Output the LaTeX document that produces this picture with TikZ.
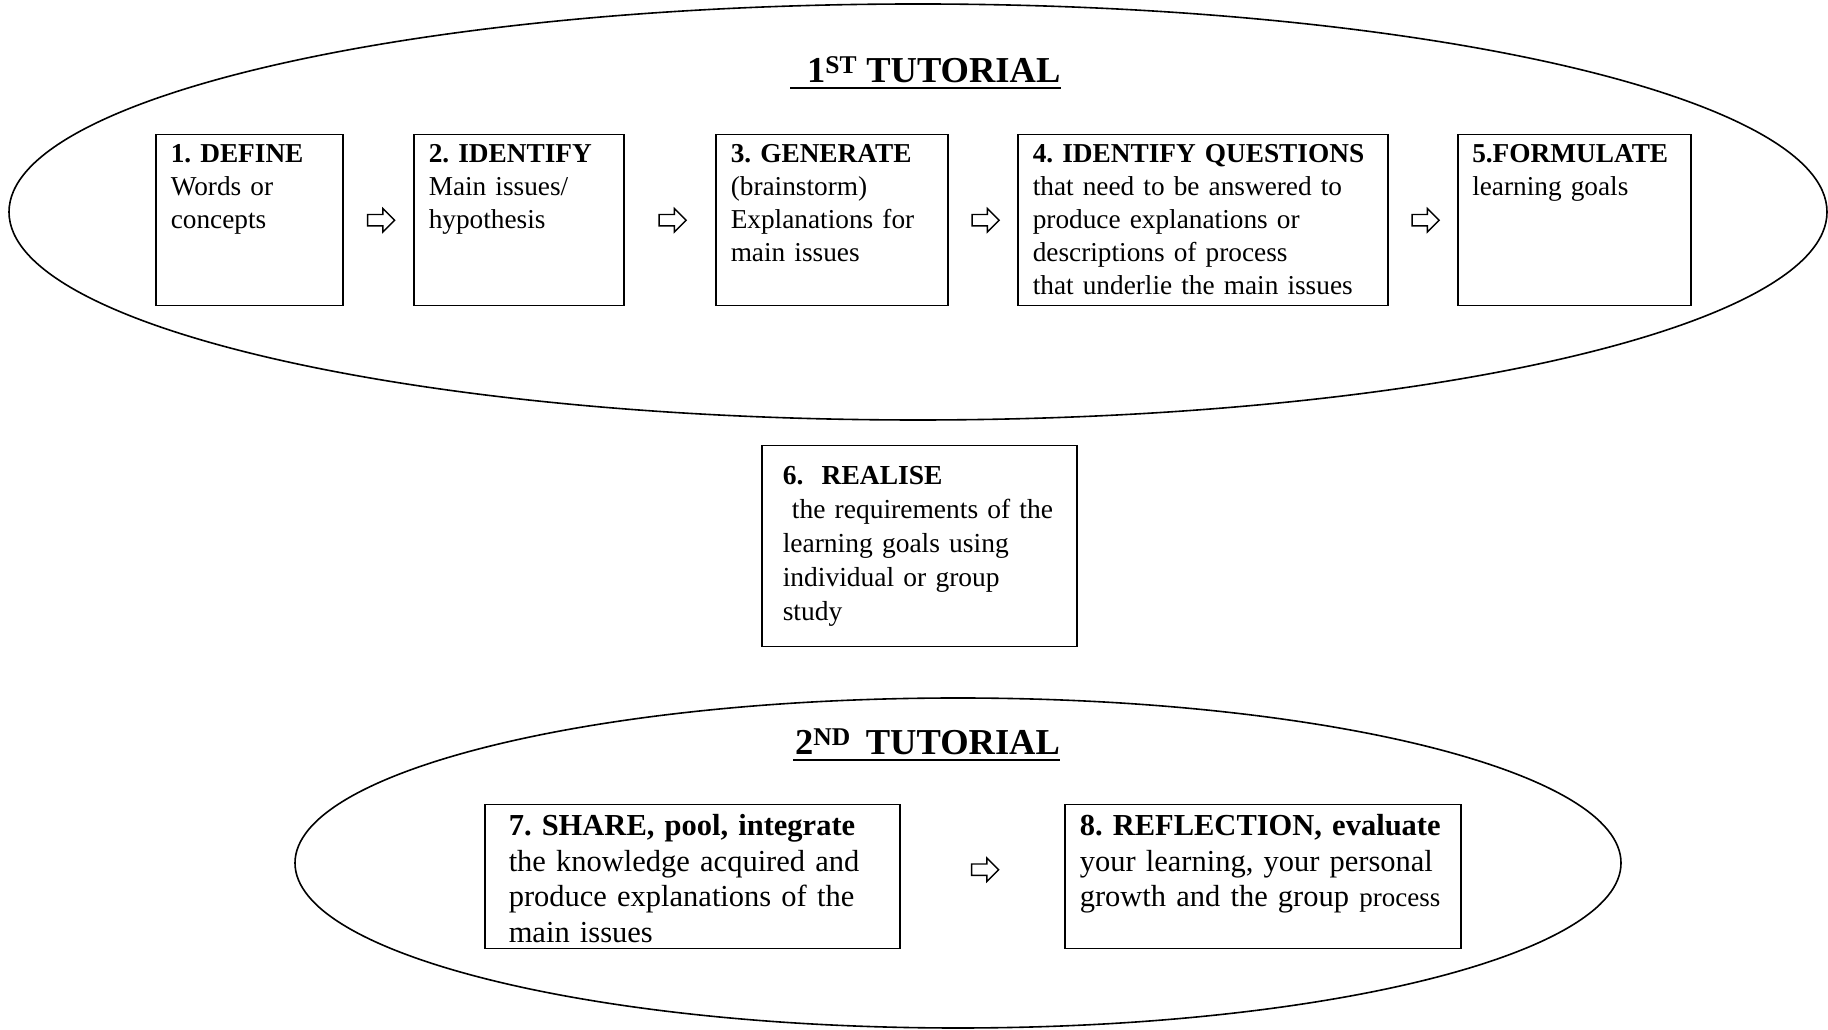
\documentclass[tikz,border=0pt]{standalone}
\usepackage{fontspec}
\setmainfont{Liberation Serif}
\usetikzlibrary{positioning,calc,shapes.arrows}
\frenchspacing
\hyphenpenalty=10000
\tikzset{
  oval/.style={line width=1.6pt},
  stepbox/.style={draw,line width=1.5pt,anchor=north west,align=left,
    inner ysep=0pt,inner xsep=15pt},
  rowone/.style={stepbox,text width=#1,font=\fontsize{27.3}{33}\selectfont,
    text height=28pt,text depth=143pt},
  rowtwo/.style={stepbox,text width=#1,font=\fontsize{30.5}{35.5}\selectfont,
    text height=31pt,text depth=113pt},
  ttl/.style={font=\fontsize{36.5}{40}\selectfont\bfseries,inner sep=0pt,anchor=base west},
  uline/.style={line width=2.5pt},
  flow/.style={single arrow,draw,line width=1.4pt,inner xsep=0pt,inner ysep=5pt,
    minimum height=27pt,single arrow head extend=6pt},
}
\begin{document}
\begin{tikzpicture}[x=1pt,y=1pt]
  \useasboundingbox (0,0) rectangle (1828,1030);
  % 1st tutorial
  \draw[oval] (918,818) ellipse [x radius=909,y radius=208];
  \node[ttl] (t1) at (790,947) {\hspace{17pt}1\textsuperscript{ST} TUTORIAL};
  \draw[uline] ([yshift=-5pt]t1.base west) -- ([yshift=-5pt]t1.base east);
  \node[rowone=157pt] (b1) at (155,896) {\textbf{1. DEFINE}\\Words or\\concepts};
  \node[rowone=180pt] (b2) at (413,896) {\textbf{2. IDENTIFY}\\Main issues/\\hypothesis};
  \node[rowone=202pt] (b3) at (715,896) {\textbf{3. GENERATE}\\(brainstorm)\\Explanations for\\main issues};
  \node[rowone=340pt] (b4) at (1017,896) {\textbf{4. IDENTIFY QUESTIONS}\\that need to be answered to\\produce explanations or\\descriptions of process\\that underlie the main issues};
  \node[rowone=204pt,inner xsep=14.5pt] (b5) at (1457,896) {\textbf{5.FORMULATE}\\learning goals};
  \foreach \a/\b in {b1/b2,b2/b3,b3/b4,b4/b5}
    \node[flow] (f\a) at ($(\a.east)!0.5!(\b.west)$) {};
  % self study
  \node[stepbox,inner xsep=21pt,text width=273pt,font=\fontsize{27.5}{34}\selectfont,
    text height=39pt,text depth=162pt] (b6) at (761,585)
    {\textbf{6.\ \ REALISE}\\\ the requirements of the\\learning goals using\\individual or group\\study};
  % 2nd tutorial
  \draw[oval] (958,167) ellipse [x radius=663,y radius=165];
  \node[ttl] (t2) at (795,275) {2\textsuperscript{ND}\hspace{15pt}TUTORIAL};
  \draw[uline] ([xshift=-2pt,yshift=-5pt]t2.base west) -- ([yshift=-5pt]t2.base east);
  \node[rowtwo=367pt,inner xsep=24pt] (b7) at (484,226)
    {\textbf{7. SHARE, pool, integrate}\\the knowledge acquired and\\produce explanations of the\\main issues};
  \node[rowtwo=366pt] (b8) at (1064,226)
    {\textbf{8. REFLECTION, evaluate}\\your learning, your personal\\growth and the group {\fontsize{27}{35.5}\selectfont process}};
  \node[flow] (fb7) at ([yshift=7pt]$(b7.east)!0.5!(b8.west)$) {};
\end{tikzpicture}
\end{document}
